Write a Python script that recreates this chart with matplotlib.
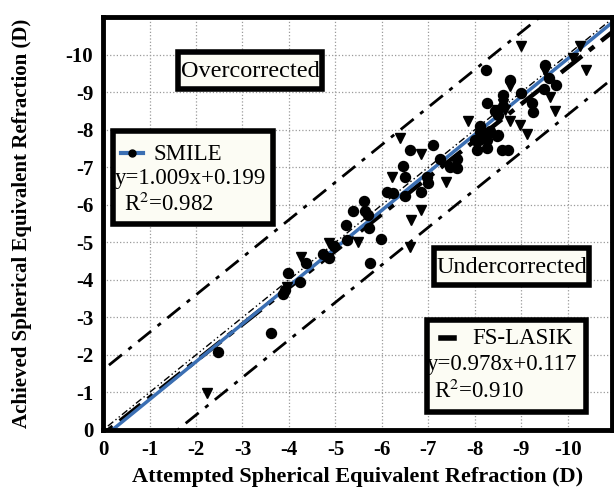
import matplotlib
matplotlib.use("Agg")
import matplotlib.pyplot as plt
from matplotlib.patches import Rectangle

plt.rcParams['font.family'] = ['Liberation Serif', 'DejaVu Serif']
plt.rcParams['mathtext.fontset'] = 'stix'
plt.rcParams['axes.unicode_minus'] = False

# SMILE (circles)
smile_x = [-2.48, -3.61, -3.87, -3.91, -3.98, -4.24, -4.37, -4.74, -4.87, -4.97,
           -5.24, -5.23, -5.37, -5.62, -5.63, -5.70, -5.73, -5.74, -5.99, -6.10,
           -6.24, -6.46, -6.49, -6.49, -6.60, -6.85, -6.96, -7.00, -7.10, -7.25,
           -7.46, -7.61, -7.61, -8.00, -8.08, -8.25, -8.22, -8.04, -8.11, -8.11,
           -8.25, -8.47, -8.58, -8.72, -8.24, -8.25, -8.61, -8.61, -8.75, -9.00,
           -9.23, -9.24, -9.51, -9.59, -9.74, -9.48, -8.43, -8.50, -8.32, -8.50]
smile_y = [-2.08, -2.58, -3.63, -3.73, -4.19, -3.95, -4.45, -4.69, -4.58, -4.91,
           -5.07, -5.47, -5.82, -6.09, -5.82, -5.72, -5.37, -4.45, -5.09, -6.33,
           -6.32, -7.04, -6.22, -6.75, -7.47, -6.33, -6.75, -6.58, -7.60, -7.23,
           -7.01, -6.98, -7.23, -7.73, -7.73, -7.73, -7.91, -7.47, -8.09, -7.95,
           -7.51, -7.84, -7.47, -7.47, -9.60, -8.71, -8.91, -8.62, -9.33, -8.98,
           -8.71, -8.48, -9.73, -9.38, -9.20, -9.09, -8.49, -8.40, -7.96, -7.87]

# FS-LASIK (triangles)
lasik_x = [-2.24, -4.25, -4.87, -5.49, -6.21, -6.39, -6.62, -6.85, -6.61, -6.85,
           -7.38, -7.86, -8.47, -8.61, -8.75, -8.75, -8.97, -9.11, -9.00, -9.51,
           -9.61, -9.72, -10.11, -10.26, -10.38, -3.96, -8.65]
lasik_y = [-0.99, -4.62, -4.98, -5.01, -6.75, -7.78, -5.60, -5.87, -4.88, -7.36,
           -6.61, -8.22, -8.53, -8.67, -8.22, -9.15, -8.13, -7.89, -10.22, -9.55,
           -8.88, -8.49, -9.91, -10.22, -9.60, -3.81, -8.53]

smile_fit = (1.009, 0.199)
lasik_fit = (0.978, 0.117)
band = 1.6

ticks = list(range(0, -11, -1))
tick_labels = [str(t) for t in ticks]

fig = plt.figure(figsize=(6.14, 4.93), dpi=100)
ax = fig.add_axes([0.1678, 0.1278, 0.829, 0.8377])

ax.set_xlim(0, -10.95)
ax.set_ylim(0, -11)
ax.set_xticks(ticks)
ax.set_xticklabels(tick_labels)
ax.set_yticks(ticks)
ax.set_yticklabels(tick_labels)
ax.tick_params(length=0, labelsize=15, pad=7)
for lab in ax.get_xticklabels() + ax.get_yticklabels():
    lab.set_fontweight('bold')
ax.grid(True, color='#9a9a9a', linestyle=':', linewidth=0.9)
for s in ax.spines.values():
    s.set_linewidth(3.5)

xs = [0.5, -11.5]
# +/- band lines
ax.plot(xs, [x - band for x in xs], color='black', lw=2, ls=(0, (6, 3, 1.5, 3)))
ax.plot(xs, [x + band for x in xs], color='black', lw=2, ls=(0, (6, 3, 1.5, 3)))
# identity
ax.plot(xs, xs, color='black', lw=1, ls=(0, (5, 2, 1, 2, 1, 2)))
# FS-LASIK fit
ax.plot(xs, [lasik_fit[0] * x + lasik_fit[1] for x in xs], color='black', lw=3.2,
        ls=(0, (6, 2, 1.5, 2)))
# SMILE fit
ax.plot(xs, [smile_fit[0] * x + smile_fit[1] for x in xs], color='#3b6fb3', lw=2.5)

ax.plot(smile_x, smile_y, 'o', color='black', ms=7.2, zorder=5)
ax.plot(lasik_x, lasik_y, 'v', color='black', ms=7.2, zorder=5)

box_fc = '#fcfcf4'


def box(x0, y0, x1, y1):
    # pixel coords of the reference -> axes fraction
    fx0 = (x0 - 103) / 509
    fx1 = (x1 - 103) / 509
    fy0 = (430 - y1) / 413
    fy1 = (430 - y0) / 413
    ax.add_patch(Rectangle((fx0, fy0), fx1 - fx0, fy1 - fy0, transform=ax.transAxes,
                           fc=box_fc, ec='black', lw=4, zorder=8))


def px_text(x, y, s, size=16, **kw):
    ax.text((x - 103) / 509, (430 - y) / 413, s, transform=ax.transAxes,
            fontsize=size, va='center', zorder=9, **kw)


box(178, 52, 322, 89)
px_text(250, 71, 'Overcorrected', size=17.5, ha='center')

box(434, 248, 589, 285)
px_text(512, 267, 'Undercorrected', size=17.5, ha='center')

box(113, 131, 273, 224)
ax.plot([(121 - 103) / 509, (143 - 103) / 509], [(430 - 153) / 413] * 2,
        transform=ax.transAxes, color='#3b6fb3', lw=3, zorder=9)
ax.plot([(132 - 103) / 509], [(430 - 153) / 413], 'o', color='black', ms=5,
        transform=ax.transAxes, zorder=9)
px_text(153, 154, 'SMILE', size=16.5)
px_text(115, 178, 'y=1.009x+0.199', size=16.5)
px_text(124, 204, 'R$^2$=0.982', size=16.5)

box(427, 320, 586, 412)
ax.plot([(441 - 103) / 509, (454 - 103) / 509], [(430 - 338) / 413] * 2,
        transform=ax.transAxes, color='black', lw=4, zorder=9)
px_text(472, 339, 'FS-LASIK', size=16.5)
px_text(427, 365, 'y=0.978x+0.117', size=16.5)
px_text(434, 391, 'R$^2$=0.910', size=16.5)

ax.set_xlabel('Attempted Spherical Equivalent Refraction (D)', fontsize=16,
              fontweight='bold', labelpad=5)
ax.set_ylabel('Achieved Spherical Equivalent Refraction (D)', fontsize=15,
              fontweight='bold', labelpad=24)

fig.savefig('out.png', dpi=100)
